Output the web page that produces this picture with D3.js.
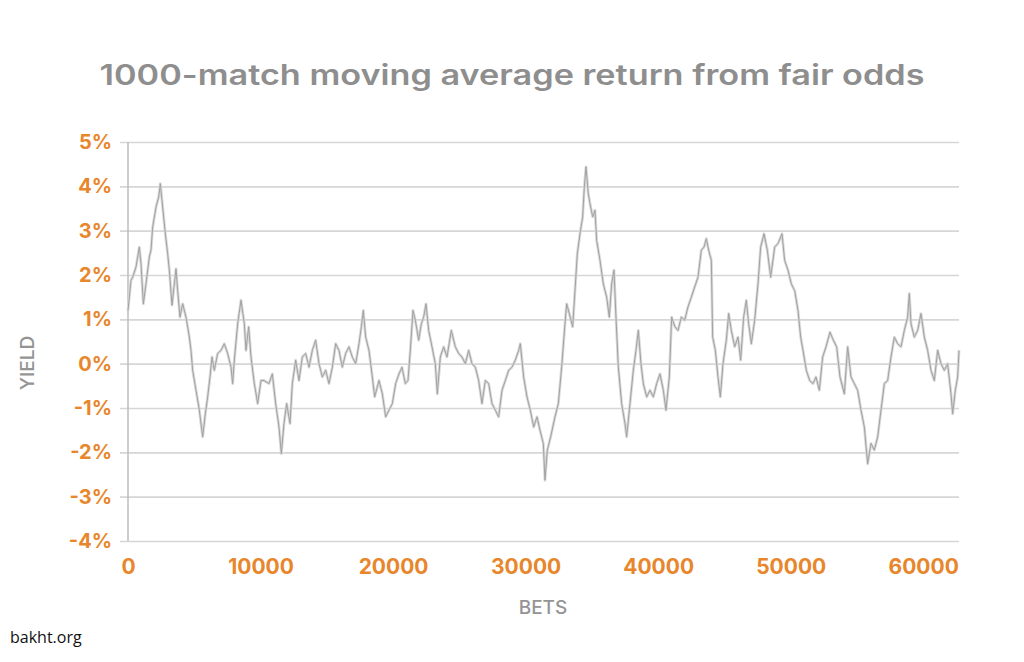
<!DOCTYPE html>
<html>
<head>
<meta charset="utf-8">
<script src="https://cdn.jsdelivr.net/npm/d3@7"></script>
<style>
  html, body { margin: 0; padding: 0; background: #fff; }
  svg { display: block; }
</style>
</head>
<body>
<svg id="chart" width="1024" height="662"></svg>
<script>
// ---------- DATA ----------
const title = "1000-match moving average return from fair odds";
const yTicks = [-4, -3, -2, -1, 0, 1, 2, 3, 4, 5];
const xTicks = [0, 10000, 20000, 30000, 40000, 50000, 60000];
const xLabel = "BETS";
const yLabel = "YIELD";
const source = "bakht.org";

// bets (x) and yield in % (y)
const bets = [
  0, 226, 352, 604, 855, 981, 1157, 1358, 1610, 1735, 1861, 2113, 2314, 2440, 2616, 2817, 2993, 3119, 3320, 3496,
  3622, 3747, 3923, 4125, 4376, 4628, 4753, 4879, 5131, 5382, 5634, 5835, 6011, 6187, 6338, 6514, 6765, 7017, 7268, 7520,
  7771, 7897, 8023, 8274, 8526, 8777, 8903, 9104, 9280, 9532, 9783, 10035,
  10261, 10638, 10890, 11141, 11393, 11569, 11770, 11971, 12223, 12399, 12650, 12902, 13153, 13405, 13656, 13908, 14159, 14411,
  14662, 14914, 15165, 15417, 15668, 15920, 16171, 16423, 16674, 16926, 17177, 17429, 17605, 17756, 17932, 18183, 18435, 18611,
  18938, 19189, 19441, 19692, 19944, 20195, 20447,
  20673, 20925, 21126, 21302, 21503, 21679, 21931, 22132, 22308, 22484, 22685, 22937, 23188, 23339, 23565, 23817, 24068, 24395,
  24697, 24949, 25200, 25452, 25703, 25955, 26206, 26458, 26709, 26961, 27212, 27464, 27715, 27967, 28218, 28470, 28721, 28973,
  29224, 29476, 29601, 29853, 30104, 30356, 30607, 30859,
  31085, 31337, 31462, 31638, 31890, 32217, 32468, 32720, 32971, 33097, 33298, 33550, 33726, 33902, 34103, 34304, 34430, 34556,
  34732, 34858, 35059, 35235, 35361, 35612, 35864, 36115, 36316, 36492, 36668, 36819, 36995, 37247, 37498, 37624, 37876, 38127,
  38328, 38504, 38705, 38882, 39133, 39385, 39636, 39888, 40139, 40391, 40592, 40843, 41019, 41271,
  41498, 41749, 42001, 42252, 42504, 42756, 43007, 43259, 43460, 43636, 43812, 44013, 44114, 44315, 44516, 44692, 44893, 45145,
  45321, 45522, 45774, 46025, 46226, 46453, 46654, 46830, 47031, 47283, 47534, 47735, 47987, 48238, 48490, 48792, 49043, 49345,
  49546, 49798, 50049, 50301, 50552, 50753, 50929, 51181, 51432, 51684,
  51910, 52162, 52413, 52665, 52966, 53218, 53469, 53721, 54048, 54299, 54551, 54802, 55054, 55305, 55557, 55808, 56060, 56311,
  56563, 56814, 57066, 57317, 57569, 57820, 58072, 58323, 58575, 58826, 58952, 59078, 59329, 59581, 59832, 60084, 60335, 60587,
  60838, 61090, 61341, 61593, 61844, 62096, 62222, 62423, 62599, 62700
];
const yieldPct = [
  1.20, 1.88, 1.95, 2.18, 2.63, 2.26, 1.35, 1.80, 2.41, 2.56, 3.08, 3.53, 3.76, 4.06, 3.53, 2.93, 2.48, 2.11, 1.32, 1.80,
  2.14, 1.65, 1.05, 1.35, 1.05, 0.60, 0.30, -0.15, -0.60, -1.05, -1.65, -1.13, -0.75, -0.30, 0.15, -0.15, 0.23, 0.30, 0.45, 0.23,
  -0.08, -0.45, 0.08, 0.90, 1.43, 0.90, 0.30, 0.83, 0.15, -0.45, -0.90, -0.38,
  -0.38, -0.45, -0.23, -0.90, -1.43, -2.03, -1.35, -0.90, -1.35, -0.45, 0.08, -0.38, 0.15, 0.23, -0.08, 0.30, 0.53, 0.00,
  -0.30, -0.15, -0.45, -0.08, 0.45, 0.30, -0.08, 0.23, 0.38, 0.15, 0.00, 0.45, 0.83, 1.20, 0.60, 0.30, -0.30, -0.75,
  -0.38, -0.68, -1.20, -1.05, -0.90, -0.45, -0.23,
  -0.08, -0.45, -0.38, 0.30, 1.20, 0.98, 0.53, 0.90, 1.05, 1.35, 0.75, 0.38, 0.00, -0.68, 0.15, 0.38, 0.15, 0.75,
  0.38, 0.23, 0.15, 0.00, 0.30, 0.00, -0.08, -0.38, -0.90, -0.38, -0.45, -0.90, -1.05, -1.20, -0.60, -0.38, -0.15, -0.08,
  0.08, 0.30, 0.45, -0.30, -0.75, -1.05, -1.43, -1.20,
  -1.50, -1.80, -2.63, -1.95, -1.65, -1.20, -0.90, -0.08, 0.90, 1.35, 1.13, 0.83, 1.65, 2.48, 2.93, 3.31, 3.98, 4.44,
  3.83, 3.61, 3.31, 3.46, 2.78, 2.33, 1.80, 1.50, 1.05, 1.80, 2.11, 1.05, -0.08, -0.90, -1.35, -1.65, -0.90, -0.15,
  0.30, 0.75, 0.00, -0.45, -0.75, -0.60, -0.75, -0.45, -0.23, -0.60, -1.05, -0.30, 1.05, 0.83,
  0.75, 1.05, 0.98, 1.28, 1.50, 1.73, 1.95, 2.56, 2.63, 2.82, 2.56, 2.33, 0.60, 0.30, -0.30, -0.75, 0.00, 0.53,
  1.13, 0.75, 0.38, 0.60, 0.08, 1.05, 1.43, 0.90, 0.45, 0.98, 1.80, 2.63, 2.93, 2.56, 1.95, 2.63, 2.71, 2.93,
  2.33, 2.11, 1.80, 1.65, 1.20, 0.60, 0.30, -0.15, -0.38, -0.45,
  -0.30, -0.60, 0.15, 0.38, 0.71, 0.53, 0.38, -0.30, -0.68, 0.38, -0.30, -0.45, -0.60, -1.05, -1.43, -2.26, -1.80, -1.95,
  -1.65, -1.05, -0.45, -0.38, 0.15, 0.60, 0.45, 0.38, 0.75, 1.05, 1.58, 0.90, 0.60, 0.75, 1.13, 0.60, 0.30, -0.15,
  -0.38, 0.30, 0.00, -0.15, 0.00, -0.68, -1.13, -0.60, -0.30, 0.30
];

// ---------- CHART ----------
const svg = d3.select("#chart");
const orange = "#e8862c";

const x = d3.scaleLinear().domain([0, 62700]).range([128, 959]);
const y = d3.scaleLinear().domain([-4, 5]).range([541, 142]);

// title
svg.append("text")
  .attr("x", 512).attr("y", 85)
  .attr("text-anchor", "middle")
  .attr("font-family", "Inter, 'Open Sans', sans-serif")
  .attr("font-weight", 600)
  .attr("font-size", 28)
  .attr("fill", "#8e8e8e")
  .attr("textLength", 825)
  .attr("lengthAdjust", "spacingAndGlyphs")
  .text(title);

// y axis with gridlines
const yAxis = svg.append("g")
  .attr("transform", "translate(120,0)")
  .call(d3.axisLeft(y).tickValues(yTicks).tickSize(-839).tickPadding(8)
    .tickFormat(d => d + "%"));
yAxis.select(".domain").remove();
yAxis.selectAll(".tick line").attr("stroke", "#d6d6d6").attr("stroke-width", 1.6);
yAxis.selectAll(".tick text")
  .attr("fill", orange)
  .attr("font-family", "Inter, 'Open Sans', sans-serif")
  .attr("font-weight", 700)
  .attr("font-size", 20);

// vertical axis line
svg.append("line")
  .attr("x1", x(0)).attr("x2", x(0))
  .attr("y1", y(5)).attr("y2", y(-4))
  .attr("stroke", "#bdbdbd").attr("stroke-width", 1.5);

// x axis labels
const xAxis = svg.append("g")
  .attr("transform", `translate(0,${y(-4)})`)
  .call(d3.axisBottom(x).tickValues(xTicks).tickSize(0).tickPadding(18)
    .tickFormat(d3.format("d")));
xAxis.select(".domain").remove();
xAxis.selectAll(".tick text")
  .attr("fill", orange)
  .attr("font-family", "Inter, 'Open Sans', sans-serif")
  .attr("font-weight", 700)
  .attr("font-size", 21);

// data line
const pts = bets.map((b, i) => [b, yieldPct[i]]);
const line = d3.line().x(d => x(d[0])).y(d => y(d[1]));
svg.append("path")
  .datum(pts)
  .attr("d", line)
  .attr("fill", "none")
  .attr("stroke", "#d9d9d9")
  .attr("stroke-width", 2.8)
  .attr("stroke-linejoin", "round");
svg.append("path")
  .datum(pts)
  .attr("d", line)
  .attr("fill", "none")
  .attr("stroke", "#a2a2a2")
  .attr("stroke-width", 1)
  .attr("stroke-linejoin", "round");

// axis titles
svg.append("text")
  .attr("transform", "translate(34,363) rotate(-90)")
  .attr("text-anchor", "middle")
  .attr("font-family", "Inter, 'Open Sans', sans-serif")
  .attr("font-weight", 500)
  .attr("font-size", 19)
  .attr("fill", "#949494")
  .text(yLabel);

svg.append("text")
  .attr("x", 543).attr("y", 614)
  .attr("text-anchor", "middle")
  .attr("font-family", "Inter, 'Open Sans', sans-serif")
  .attr("font-weight", 500)
  .attr("font-size", 19)
  .attr("fill", "#949494")
  .text(xLabel);

// source
svg.append("text")
  .attr("x", 10).attr("y", 643)
  .attr("font-family", "'Open Sans', 'Liberation Sans', sans-serif")
  .attr("font-size", 16)
  .attr("fill", "#111")
  .text(source);
</script>
</body>
</html>
